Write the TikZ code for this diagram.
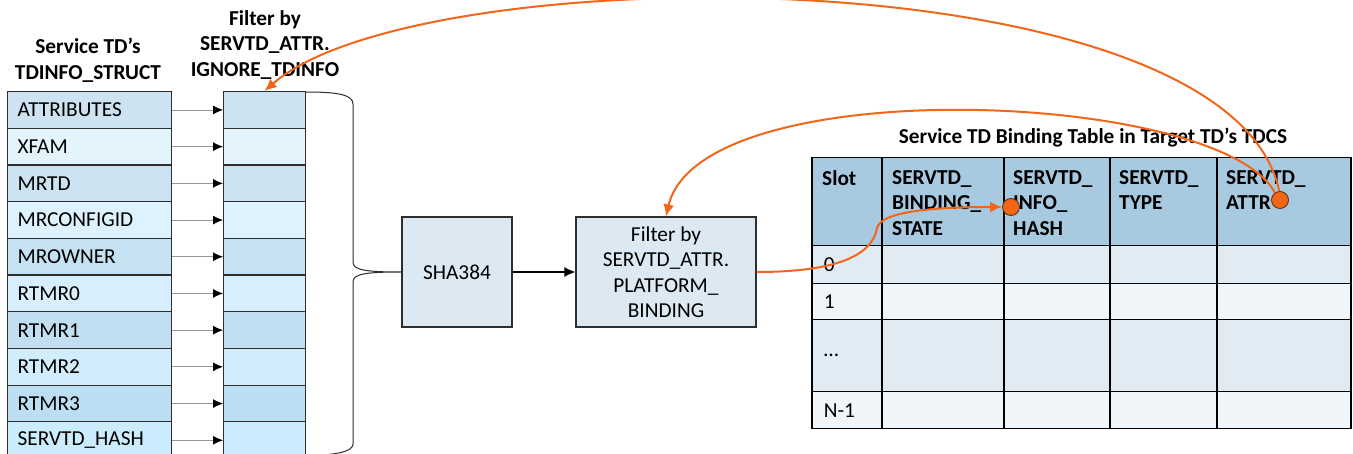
\documentclass[tikz,border=0pt]{standalone}
\usepackage{fontspec}
\setmainfont{Carlito}
\usetikzlibrary{arrows.meta}
\definecolor{orng}{HTML}{F2661A}
\definecolor{dotline}{HTML}{5A2A0A}
\definecolor{cellline}{HTML}{2E2E2E}
\definecolor{r1}{HTML}{CDE3F1}
\definecolor{r2}{HTML}{E4F4FD}
\definecolor{r3}{HTML}{CBE2F1}
\definecolor{r4}{HTML}{DDF2FD}
\definecolor{r5}{HTML}{C6E1F2}
\definecolor{r6}{HTML}{D7EFFC}
\definecolor{r7}{HTML}{C2DFF2}
\definecolor{r8}{HTML}{D1EDFC}
\definecolor{r9}{HTML}{BCDEF2}
\definecolor{r10}{HTML}{CBECFC}
\definecolor{boxfill}{HTML}{DCE9F3}
\definecolor{hdr}{HTML}{A8CAE0}
\definecolor{rowa}{HTML}{E0EBF4}
\definecolor{rowb}{HTML}{EFF5F9}
\newcommand\myfs{\fontsize{21.3}{25.5}\selectfont}
\newcommand\mydots{\ldots}
\begin{document}
\begin{tikzpicture}[x=1pt,y=-1pt,
  every node/.style={font=\myfs, inner sep=0pt},
  lcell/.style={draw=cellline, line width=1.2pt, minimum height=36.7pt, text width=144pt, inner xsep=10pt, align=left, anchor=north west},
  fcell/.style={draw=cellline, line width=1.2pt, minimum height=36.7pt, minimum width=82pt, anchor=north west},
  smallarrow/.style={draw=gray!80, line width=0.8pt, -{Latex[length=10pt,width=9pt,black]}},
  box/.style={draw=cellline, line width=1.2pt, fill=boxfill, minimum height=110pt, align=center},
  tcell/.style={draw=black, line width=1.5pt, anchor=north west, inner sep=0pt},
  lab/.style={tcell, text width=46pt, inner xsep=12pt, align=left},
  htext/.style={font=\myfs\bfseries, anchor=north west, align=left},
  title/.style={font=\myfs\bfseries, align=center},
  orarrow/.style={draw=orng, line width=2pt, -{Latex[length=12pt,width=11pt]}},
  dot/.style={circle, fill=orng, draw=dotline, line width=0.8pt, minimum size=17pt, inner sep=0pt},
  brace/.style={draw=cellline, line width=1pt}
]
\useasboundingbox[fill=white] (0,0) rectangle (1353,454);

% titles
\node[title] (t1) at (88,60) {Service TD’s\\TDINFO\_STRUCT};
\node[title] (t2) at (265,45) {Filter by\\SERVTD\_ATTR.\\IGNORE\_TDINFO};
\node[title] (t3) at (1093,138) {Service TD Binding Table in Target TD’s TDCS};

% left columns
\foreach \i/\t/\c in {1/ATTRIBUTES/r1, 2/XFAM/r2, 3/MRTD/r3, 4/MRCONFIGID/r4, 5/MROWNER/r5, 6/RTMR0/r6, 7/RTMR1/r7, 8/RTMR2/r8, 9/RTMR3/r9, 10/SERVTD\_HASH/r10} {
  \node[lcell, fill=\c] (l\i) at (7, {91+(\i-1)*36.7}) {\t};
  \node[fcell, fill=\c] (f\i) at (223, {91+(\i-1)*36.7}) {};
  \draw[smallarrow] (l\i) -- (f\i);
}

% boxes
\node[box, minimum width=110pt] (sha) at (457,272) {SHA384};
\node[box, minimum width=180pt] (fb) at (666,272) {Filter by\\SERVTD\_ATTR.\\PLATFORM\_\\BINDING};
\draw[line width=1.3pt, -{Latex[length=11pt,width=10pt]}] (sha) -- (fb);

% brace
\draw[brace] (305,92) .. controls (335,92) and (353,94) .. (353,104) -- (353,262)
  .. controls (353,270) and (365,272) .. (sha.west)
  (sha.west) .. controls (365,272) and (353,274) .. (353,282) -- (353,444)
  .. controls (353,452) and (335,455) .. (305,456);

% table
\foreach \n/\x/\w in {1/811/70, 2/881/122, 3/1003/106, 4/1109/107, 5/1216/134} {
  \node[tcell, fill=hdr, minimum width=\w pt, minimum height=88pt] (h\n) at (\x,157) {};
}
\foreach \r/\y/\h/\c/\t in {1/245/38/rowa/0, 2/283/36/rowb/1, 3/319/72/rowa/\mydots, 4/391/37/rowb/N-1} {
  \node[lab, fill=\c, minimum width=70pt, minimum height=\h pt] (c\r1) at (811,\y) {\t};
  \foreach \n/\x/\w in {2/881/122, 3/1003/106, 4/1109/107, 5/1216/134} {
    \node[tcell, fill=\c, minimum width=\w pt, minimum height=\h pt] (c\r\n) at (\x,\y) {};
  }
}
\node[htext] (ht1) at (822,170) {Slot};
\node[htext] (ht2) at (892,170) {SERVTD\_\\BINDING\_\\STATE};
\node[htext] (ht3) at (1013,170) {SERVTD\_\\INFO\_\\HASH};
\node[htext] (ht4) at (1119,170) {SERVTD\_\\TYPE};
\node[htext] (ht5) at (1226,170) {SERVTD\_\\ATTR};

% dots
\node[dot] (d1) at (1011,207) {};
\node[dot] (d2) at (1280,200) {};

% orange connectors
\draw[orarrow] (d2.95) .. controls (1230,-45) and (420,-45) .. (f1.north);
\draw[orarrow] (d2.125) .. controls (1220,90) and (700,70) .. (fb.north);
\draw[orarrow] (fb.east) .. controls (830,272) and (872,258) .. (877,228)
  .. controls (881,212) and (930,207) .. (d1.west);
\end{tikzpicture}
\end{document}
